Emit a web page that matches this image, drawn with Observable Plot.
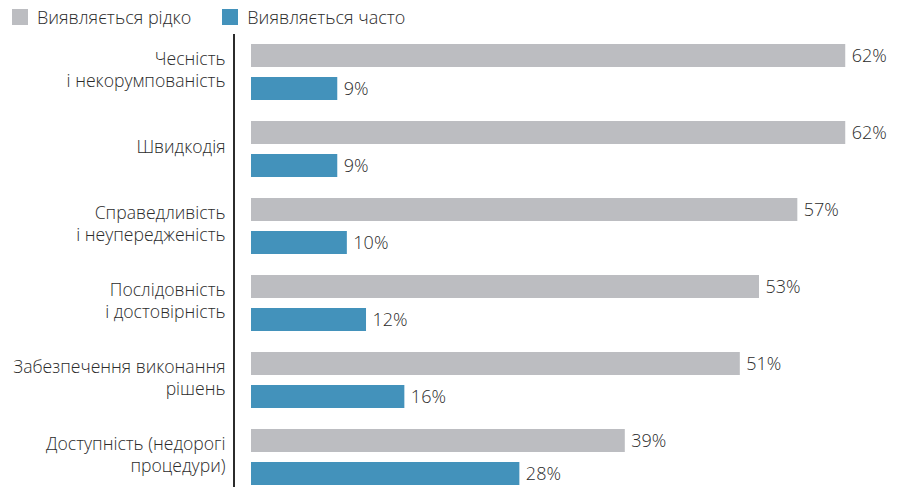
<!DOCTYPE html>
<html>
<head>
<meta charset="utf-8">
<script src="https://cdn.jsdelivr.net/npm/d3@7"></script>
<script src="https://cdn.jsdelivr.net/npm/@observablehq/plot@0.6"></script>
<style>
  html, body { margin: 0; padding: 0; background: #fff; }
  body { width: 903px; height: 487px; overflow: hidden; font-family: "Open Sans", sans-serif; color: #2b2b2b; }
  #legend { height: 33px; display: flex; align-items: center; padding-left: 12px; font-size: 18px; font-weight: 350; }
  .item { display: flex; align-items: center; margin-right: 31px; }
  .sw { width: 16px; height: 16px; margin-right: 9px; }
  svg { display: block; }
</style>
</head>
<body>
<div id="legend"></div>
<div id="chart"></div>
<script>
const categories = [
  "Чесність\nі некорумпованість",
  "Швидкодія",
  "Справедливість\nі неупередженість",
  "Послідовність\nі достовірність",
  "Забезпечення виконання\nрішень",
  "Доступність (недорогі\nпроцедури)"
];
const seriesNames = ["Виявляється рідко", "Виявляється часто"];
const rarely = [62, 62, 57, 53, 51, 39];
const often = [9, 9, 10, 12, 16, 28];
const colors = ["#bcbdc1", "#4392bb"];

const data = [];
categories.forEach((c, i) => {
  data.push({category: c, series: seriesNames[0], value: rarely[i]});
  data.push({category: c, series: seriesNames[1], value: often[i]});
});

const legend = document.getElementById("legend");
seriesNames.forEach((s, i) => {
  const it = document.createElement("div");
  it.className = "item";
  it.innerHTML = `<div class="sw" style="background:${colors[i]}"></div><span>${s}</span>`;
  legend.appendChild(it);
});

const chart = Plot.plot({
  width: 903,
  height: 464,
  marginLeft: 251,
  marginRight: 29,
  marginTop: 0,
  marginBottom: 0,
  style: {fontFamily: "Open Sans, sans-serif", fontSize: "18px", fontWeight: 350, color: "#2b2b2b"},
  x: {domain: [0, 65], axis: null},
  y: {domain: seriesNames, paddingInner: 0.294, paddingOuter: 0.282, align: 0.5, axis: null},
  fy: {domain: categories, paddingInner: 0, paddingOuter: 0, axis: null},
  color: {domain: seriesNames, range: colors},
  marks: [
    Plot.barX(data, {fy: "category", y: "series", x: "value", fill: "series"}),
    Plot.text(data, {fy: "category", y: "series", x: "value", text: d => d.value + "%", textAnchor: "start", dx: 6, fill: "#2b2b2b", fontSize: 18, fontWeight: 350}),
    Plot.ruleX([0], {dx: -17.5, stroke: "#2b2b2b", strokeWidth: 2}),
    Plot.axisFy({anchor: "left", tickSize: 0, tickPadding: 26, label: null, fontSize: 17.6, fontWeight: 350, lineHeight: 1.25, dy: -4, fill: "#2b2b2b"})
  ]
});
document.getElementById("chart").appendChild(chart);
</script>
</body>
</html>
